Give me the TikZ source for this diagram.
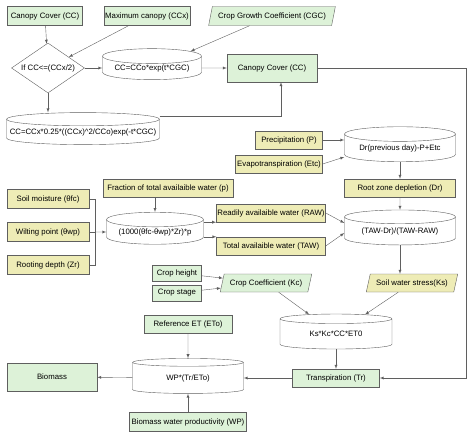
\documentclass[tikz,border=0pt]{standalone}
\usepackage{fontspec}
\setmainfont{Liberation Sans}
\usetikzlibrary{shapes.geometric,calc}
\definecolor{boxgreen}{RGB}{221,242,216}
\definecolor{boxyellow}{RGB}{238,236,182}
\definecolor{edgegray}{RGB}{95,95,95}

\begin{document}
\begin{tikzpicture}[x=1pt,y=-1pt,font=\fontsize{7.8}{9}\selectfont]
    % Define styles for boxes, drums and the condition
    \tikzstyle{gbox} = [rectangle, draw=edgegray, fill=boxgreen, text centered, inner sep=1pt]
    \tikzstyle{ybox} = [rectangle, draw=edgegray, fill=boxyellow, text centered, inner sep=1pt]
    \tikzstyle{gpar} = [trapezium, trapezium left angle=65, trapezium right angle=115, trapezium stretches=true, draw=edgegray, fill=boxgreen, inner sep=0pt]
    \tikzstyle{ypar} = [gpar, fill=boxyellow]
    \tikzstyle{drum} = [cylinder, shape border rotate=90, aspect=0.18, draw=edgegray, fill=white, inner sep=0pt]
    \tikzstyle{cond} = [diamond, aspect=1.5, draw=edgegray, inner sep=0pt]
    \tikzstyle{arr} = [-latex, draw=edgegray]

    \useasboundingbox (0,0) rectangle (474,439);

    % Canopy cover part
    \node[gbox, minimum width=75pt, minimum height=19pt] (cc1) at (45,16) {Canopy Cover (CC)};
    \node[gbox, minimum width=86pt, minimum height=19pt] (ccx) at (147,16) {Maximum canopy (CCx)};
    \node[gpar, minimum width=127pt, minimum height=19pt] (cgc) at (272,16) {Crop Growth Coefficient (CGC)};
    \node[cond, minimum width=73pt, minimum height=50pt] (test) at (48,68) {If CC<=(CCx/2)};
    \node[drum, aspect=0.2, minimum width=99pt, minimum height=31pt] (grow1) at (152,68) {CC=CCo*exp(t*CGC)};
    \node[gbox, minimum width=90pt, minimum height=28pt] (cc2) at (272,68) {Canopy Cover (CC)};
    \node[drum, aspect=0.12, minimum width=153pt, minimum height=32pt] (grow2) at (83,132) {\makebox[110pt]{CC=CCx*0.25*((CCx)\^{}2/CCo)exp(-t*CGC)}};

    % Root zone part
    \node[ybox, minimum width=67pt, minimum height=18pt] (prec) at (289,140) {Precipitation (P)};
    \node[ybox, minimum width=87pt, minimum height=18pt] (etc) at (279,164) {Evapotranspiration (Etc)};
    \node[drum, minimum width=111pt, minimum height=35pt] (depl) at (400,148) {Dr(previous day)-P+Etc};
    \node[ybox, minimum width=111pt, minimum height=18pt] (dr) at (400,188) {Root zone depletion (Dr)};
    \node[drum, minimum width=111pt, minimum height=35pt] (stress) at (400,231) {(TAW-Dr)/(TAW-RAW)};
    \node[ypar, minimum width=92pt, minimum height=18pt] (ks) at (412,283) {Soil water stress(Ks)};

    % Soil water part
    \node[ybox, minimum width=82pt, minimum height=19pt] (fc) at (48,199) {Soil moisture (θfc)};
    \node[ybox, minimum width=82pt, minimum height=19pt] (wp) at (48,232) {Wilting point (θwp)};
    \node[ybox, minimum width=82pt, minimum height=19pt] (zr) at (48,265) {Rooting depth (Zr)};
    \node[ybox, minimum width=130pt, minimum height=18pt] (frac) at (168,188) {Fraction of total availaible water (p)};
    \node[drum, aspect=0.2, minimum width=97pt, minimum height=32pt] (avail) at (155,232) {(1000(θfc-θwp)*Zr)*p};
    \node[ybox, minimum width=109pt, minimum height=18pt] (raw) at (271,213) {Readily availaible water (RAW)};
    \node[ybox, minimum width=109pt, minimum height=18pt] (taw) at (271,246) {Total availaible water (TAW)};

    % Crop and transpiration part
    \node[gbox, minimum width=49pt, minimum height=16pt] (height) at (177,273) {Crop height};
    \node[gbox, minimum width=49pt, minimum height=16pt] (stage) at (177,293) {Crop stage};
    \node[gpar, minimum width=92pt, minimum height=18pt] (kc) at (266,283) {Crop Coefficient (Kc)};
    \node[drum, minimum width=112pt, minimum height=35pt] (transp) at (336,334) {Ks*Kc*CC*ET0};
    \node[gbox, minimum width=87pt, minimum height=18pt] (tr) at (336,378) {Transpiration (Tr)};
    \node[gbox, minimum width=88pt, minimum height=18pt] (eto) at (188,324) {Reference ET (ETo)};
    \node[drum, minimum width=111pt, minimum height=35pt] (yield) at (188,378) {WP*(Tr/ETo)};
    \node[gbox, minimum width=117pt, minimum height=19pt] (wpb) at (188,422) {Biomass water productivity (WP)};
    \node[gbox, minimum width=90pt, minimum height=28pt] (bio) at (52,377) {Biomass};

    % Turning points
    \coordinate (ccturn) at (466,378);
    \coordinate (soilbus) at (95,232);

    % Draw the arrows
    \draw[arr] (cc1) -- (test);
    \draw[arr] (ccx) -- (test);
    \draw[arr] (cgc) -- (grow1);
    \draw[arr] (test) -- (grow1);
    \draw[arr] (grow1) -- (cc2);
    \draw[arr] (test.south) -- (test.south |- grow2.north);
    \draw[arr] ($(grow2.north -| grow2.east)+(0,4)$) -| ($(cc2.south)+(9,0)$);
    \draw[arr] (cc2.east) -| (ccturn) -- (tr.east);

    \draw[arr] (prec.east) -- (prec.east -| depl.west);
    \draw[arr] (etc.east) -- ($(depl.west)+(0,9)$);
    \draw[arr] (depl) -- (dr);
    \draw[arr] (dr) -- (stress);
    \draw[arr] (stress.south) -- (stress.south |- ks.north);

    \foreach \s in {fc,zr} {
        \draw[edgegray] (\s.east) -| (soilbus);
    }
    \draw[edgegray] (wp.east) -- (soilbus);
    \draw[arr] (soilbus) -- (avail.west);
    \draw[arr] (avail.north |- frac.south) -- (avail.north);
    \draw[arr] (avail.east |- raw.south) -- (raw.south west);
    \draw[arr] (avail.east |- taw.north) -- (taw.north west);
    \draw[arr] (raw.east) -- ($(stress.west)+(0,-8)$);
    \draw[arr] (taw.east) -- ($(stress.west)+(0,2)$);

    \draw[arr] (height) -- (kc);
    \draw[arr] (stage) -- (kc);
    \draw[arr] (kc) -- (transp);
    \draw[arr] (ks) -- (transp);
    \draw[arr] (transp) -- (tr);
    \draw[arr] (tr) -- (yield);
    \draw[arr] (eto) -- (yield);
    \draw[arr] (wpb) -- (yield);
    \draw[arr] (yield) -- (bio);
\end{tikzpicture}
\end{document}
